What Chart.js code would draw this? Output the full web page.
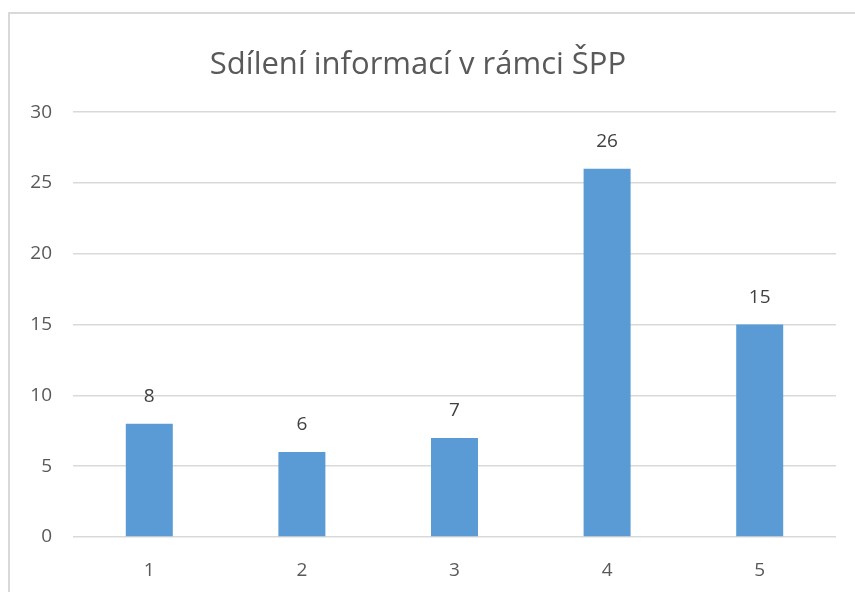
<!DOCTYPE html>
<html>
<head>
<meta charset="utf-8">
<script src="https://cdn.jsdelivr.net/npm/chart.js@4/dist/chart.umd.min.js"></script>
<style>
  html, body { margin: 0; padding: 0; background: #fff; }
  #frame { position: absolute; left: 8px; top: 12px; width: 900px; height: 640px; border: 2px solid #d9d9d9; }
  #wrap { position: absolute; left: 0; top: 0; width: 855px; height: 592px; }
</style>
</head>
<body>
<div id="frame"></div>
<div id="wrap"><canvas id="graf"></canvas></div>
<script>
var kategorie = ['1', '2', '3', '4', '5'];
var hodnoty = [8, 6, 7, 26, 15];
var osaY = [0, 5, 10, 15, 20, 25, 30];

var popisky = {
    id: 'popisky',
    afterDatasetsDraw: function(chart) {
        var ctx = chart.ctx;
        var meta = chart.getDatasetMeta(0);
        ctx.save();
        ctx.font = '19px "Open Sans", sans-serif';
        ctx.fillStyle = '#404040';
        ctx.textAlign = 'center';
        ctx.textBaseline = 'middle';
        meta.data.forEach(function(bar, i) {
            ctx.fillText(hodnoty[i], bar.x, bar.y - 27);
        });
        ctx.restore();
    }
};

var graf = new Chart(document.getElementById('graf'), {
    type: 'bar',
    data: {
        labels: kategorie,
        datasets: [{
            data: hodnoty,
            backgroundColor: '#5b9bd5',
            barPercentage: 0.308,
            categoryPercentage: 1
        }]
    },
    options: {
        responsive: true,
        maintainAspectRatio: false,
        animation: false,
        layout: { padding: { top: 35, right: 19, bottom: 5, left: 0 } },
        plugins: {
            legend: { display: false },
            tooltip: { enabled: false },
            title: {
                display: true,
                text: 'Sdílení informací v rámci ŠPP',
                color: '#595959',
                font: { family: '"Open Sans", sans-serif', size: 31, weight: 'normal' },
                padding: { top: 12, bottom: 28 }
            }
        },
        scales: {
            x: {
                afterFit: function(s) { s.height = 50; },
                grid: { display: false },
                border: { display: false },
                ticks: {
                    color: '#595959',
                    padding: 14,
                    font: { family: '"Open Sans", sans-serif', size: 19 }
                }
            },
            y: {
                min: 0,
                max: 30,
                afterFit: function(s) { s.width = 73; },
                afterBuildTicks: function(s) {
                    s.ticks = osaY.map(function(v) { return { value: v }; });
                },
                grid: { color: '#d9d9d9', lineWidth: 1.5, drawTicks: false },
                border: { display: false },
                ticks: {
                    color: '#595959',
                    padding: 21,
                    font: { family: '"Open Sans", sans-serif', size: 19 }
                }
            }
        }
    },
    plugins: [popisky]
});
</script>
</body>
</html>
